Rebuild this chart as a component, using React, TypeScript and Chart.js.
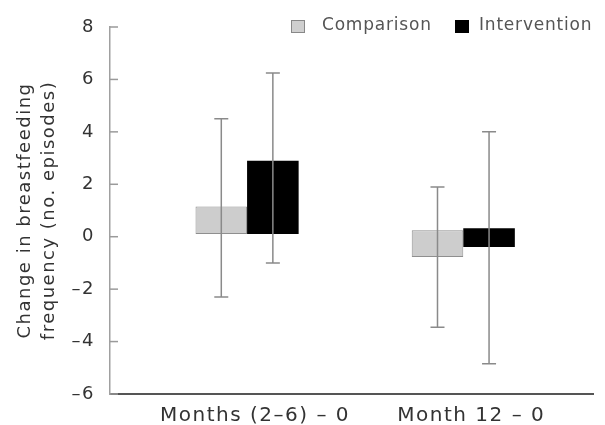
import React, { useEffect, useRef } from "react";
import { Chart, registerables } from "chart.js";

Chart.register(...registerables);

const categories = ["Months (2–6) – 0", "Month 12 – 0"];
const seriesNames = ["Comparison", "Intervention"];
const comparisonLow = [0.1, -0.77];
const comparisonHigh = [1.15, 0.25];
const interventionLow = [0.1, -0.39];
const interventionHigh = [2.9, 0.32];
const comparisonErrLow = [-2.3, -3.45];
const comparisonErrHigh = [4.5, 1.9];
const interventionErrLow = [-1.0, -4.85];
const interventionErrHigh = [6.25, 4.0];
const yTicks = [-6, -4, -2, 0, 2, 4, 6, 8];

const FONT = "'DejaVu Sans', 'Open Sans', sans-serif";
const SPACING = "1.5px";

export default function App() {
  const ref = useRef<HTMLCanvasElement | null>(null);
  useEffect(() => {
    if (!ref.current) return;
    const errs = [
      [comparisonErrLow, comparisonErrHigh],
      [interventionErrLow, interventionErrHigh],
    ];
    const plugin = {
      id: "extras",
      beforeUpdate(chart: any) {
        chart.ctx.letterSpacing = SPACING;
      },
      beforeDraw(chart: any) {
        chart.ctx.letterSpacing = SPACING;
      },
      afterDatasetsDraw(chart: any) {
        const ctx = chart.ctx;
        const ys = chart.scales.y;
        const area = chart.chartArea;
        ctx.save();
        ctx.strokeStyle = "#9a9a9a";
        ctx.lineWidth = 1.5;
        yTicks.forEach((v) => {
          const py = ys.getPixelForValue(v);
          ctx.beginPath();
          ctx.moveTo(area.left, py);
          ctx.lineTo(area.left + 8, py);
          ctx.stroke();
        });
        ctx.strokeStyle = "#8a8a8a";
        ctx.lineWidth = 1.5;
        errs.forEach((pair, di) => {
          const meta = chart.getDatasetMeta(di);
          meta.data.forEach((bar: any, j: number) => {
            const x = bar.x;
            const yl = ys.getPixelForValue(pair[0][j]);
            const yh = ys.getPixelForValue(pair[1][j]);
            ctx.beginPath();
            ctx.moveTo(x, yl);
            ctx.lineTo(x, yh);
            ctx.moveTo(x - 7, yl);
            ctx.lineTo(x + 7, yl);
            ctx.moveTo(x - 7, yh);
            ctx.lineTo(x + 7, yh);
            ctx.stroke();
          });
        });
        ctx.font = `17px ${FONT}`;
        ctx.letterSpacing = "0.8px";
        ctx.textBaseline = "middle";
        const ly = 26;
        const items = [
          { bx: 291, tx: 322, fill: "#cfcfcf", stroke: "#888" },
          { bx: 455, tx: 479, fill: "#000", stroke: "#000" },
        ];
        items.forEach((it, i) => {
          ctx.fillStyle = it.fill;
          ctx.fillRect(it.bx, ly - 6, 14, 13);
          ctx.strokeStyle = it.stroke;
          ctx.lineWidth = 1;
          ctx.strokeRect(it.bx + 0.5, ly - 5.5, 13, 12);
          ctx.fillStyle = "#555";
          ctx.textAlign = "left";
          ctx.fillText(seriesNames[i], it.tx, ly);
        });
        ctx.restore();
      },
    };
    const chart = new Chart(ref.current, {
      type: "bar",
      data: {
        datasets: [
          {
            label: seriesNames[0],
            data: categories.map((_, i) => ({ x: i + 1, y: [comparisonLow[i], comparisonHigh[i]] })) as any,
            backgroundColor: "#cdcdcd",
            borderColor: "#8f8f8f",
            borderWidth: 1,
            borderSkipped: false,
          },
          {
            label: seriesNames[1],
            data: categories.map((_, i) => ({ x: i + 1, y: [interventionLow[i], interventionHigh[i]] })) as any,
            backgroundColor: "#000000",
            borderColor: "#000000",
            borderWidth: 0,
          },
        ],
      },
      options: {
        animation: false,
        responsive: false,
        layout: { padding: { top: 27, right: 12, left: 0, bottom: 0 } },
        datasets: { bar: { categoryPercentage: 0.477, barPercentage: 1 } } as any,
        plugins: { legend: { display: false }, tooltip: { enabled: false } },
        scales: {
          x: {
            type: "linear",
            min: 0.366,
            max: 2.6,
            offset: false,
            afterBuildTicks: (s: any) => {
              s.ticks = categories.map((_, i) => ({ value: i + 1 }));
            },
            afterFit: (s: any) => {
              s.height = 31;
            },
            grid: { display: false, offset: false },
            border: { display: true, color: "#555", width: 2 },
            ticks: {
              callback: (v: any) => categories[Number(v) - 1] ?? "",
              font: { size: 20, family: FONT },
              color: "#333",
              padding: 2,
              labelOffset: 8,
              maxRotation: 0,
              autoSkip: false,
            },
          },
          y: {
            min: -6,
            max: 8,
            afterBuildTicks: (s: any) => {
              s.ticks = yTicks.map((v) => ({ value: v }));
            },
            afterFit: (s: any) => {
              s.width = 110;
            },
            grid: { display: false },
            border: { display: true, color: "#a0a0a0", width: 1.5 },
            ticks: {
              font: { size: 18, family: FONT },
              color: "#333",
              padding: 7,
              callback: (v: any) => (Number(v) < 0 ? "–" + Math.abs(Number(v)) : String(v)),
            },
            title: {
              display: true,
              text: ["Change in breastfeeding", "frequency (no. episodes)"],
              font: { size: 18, family: FONT, lineHeight: 1.35 },
              color: "#333",
              padding: { top: 13, bottom: 0 },
            },
          },
        },
      },
      plugins: [plugin],
    });
    return () => chart.destroy();
  }, []);
  return (
    <div style={{ position: "absolute", left: 0, top: 0, width: 605, height: 425, background: "#fff" }}>
      <canvas ref={ref} width={605} height={425} />
    </div>
  );
}
